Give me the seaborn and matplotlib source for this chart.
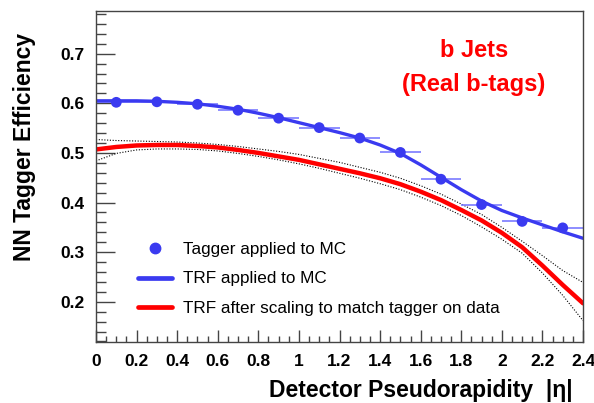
import numpy as np
import pandas as pd
import matplotlib
matplotlib.use("Agg")
import matplotlib.pyplot as plt
from matplotlib.ticker import MultipleLocator
from matplotlib.lines import Line2D
import seaborn as sns

# Tagger applied to MC (bin centres, bin half width 0.1)
eta_bins = [0.1, 0.3, 0.5, 0.7, 0.9, 1.1, 1.3, 1.5, 1.7, 1.9, 2.1, 2.3]
eff_tagger = [0.602, 0.603, 0.598, 0.586, 0.570, 0.551, 0.530, 0.501, 0.447, 0.396, 0.362, 0.349]

# curves sampled every 0.1 in eta
eta_curve = [0.0, 0.1, 0.2, 0.3, 0.4, 0.5, 0.6, 0.7, 0.8, 0.9, 1.0, 1.1, 1.2,
             1.3, 1.4, 1.5, 1.6, 1.7, 1.8, 1.9, 2.0, 2.1, 2.2, 2.3, 2.4]
trf_mc = [0.605, 0.605, 0.605, 0.604, 0.602, 0.599, 0.594, 0.588, 0.580, 0.571, 0.561, 0.551, 0.541,
          0.530, 0.516, 0.499, 0.476, 0.451, 0.426, 0.403, 0.384, 0.369, 0.355, 0.341, 0.328]
trf_data = [0.507, 0.512, 0.515, 0.516, 0.516, 0.514, 0.511, 0.506, 0.500, 0.493, 0.486, 0.477, 0.468,
            0.459, 0.449, 0.437, 0.422, 0.405, 0.385, 0.364, 0.339, 0.310, 0.273, 0.234, 0.197]
trf_data_up = [0.527, 0.525, 0.524, 0.523, 0.522, 0.520, 0.517, 0.513, 0.508, 0.503, 0.497, 0.489, 0.481,
               0.471, 0.461, 0.449, 0.434, 0.417, 0.397, 0.376, 0.350, 0.322, 0.293, 0.263, 0.239]
trf_data_dn = [0.484, 0.499, 0.506, 0.508, 0.508, 0.507, 0.504, 0.499, 0.493, 0.486, 0.478, 0.469, 0.459,
               0.449, 0.438, 0.426, 0.411, 0.394, 0.374, 0.351, 0.326, 0.298, 0.258, 0.213, 0.162]

legend_labels = ["Tagger applied to MC", "TRF applied to MC", "TRF after scaling to match tagger on data"]

sns.set_theme(style="ticks")
plt.rcParams['font.family'] = ['Liberation Sans', 'DejaVu Sans']
plt.rcParams['text.color'] = 'black'
plt.rcParams['axes.labelcolor'] = 'black'

blue = "#3a3af0"
light_blue = "#7a7aff"
red = "#ff0000"

pts = pd.DataFrame({"eta": eta_bins, "eff": eff_tagger})
curves = pd.DataFrame({"eta": eta_curve, "mc": trf_mc, "data": trf_data,
                       "up": trf_data_up, "dn": trf_data_dn})

fig = plt.figure(figsize=(5.94, 4.03), dpi=100)
ax = fig.add_axes([0.1616, 0.1514, 0.8199, 0.8213])

# uncertainty band edges
sns.lineplot(data=curves, x="eta", y="up", ax=ax, color="black", lw=0.8, linestyle=(0, (1, 1.5)))
sns.lineplot(data=curves, x="eta", y="dn", ax=ax, color="black", lw=0.8, linestyle=(0, (1, 1.5)))
sns.lineplot(data=curves, x="eta", y="data", ax=ax, color=red, lw=3.2)

# tagger points with bin-width bars
ax.errorbar(pts["eta"], pts["eff"], xerr=0.1, fmt="none", ecolor=light_blue, elinewidth=1.2, capsize=0)
sns.lineplot(data=curves, x="eta", y="mc", ax=ax, color=blue, lw=2.4)
sns.scatterplot(data=pts, x="eta", y="eff", ax=ax, color=blue, s=60, edgecolor="none", zorder=5)

ax.set_xlim(0, 2.4)
ax.set_ylim(0.119, 0.786)
ax.xaxis.set_minor_locator(MultipleLocator(0.05))
ax.yaxis.set_minor_locator(MultipleLocator(0.02))
ax.set_xticks(np.arange(0, 2.41, 0.2))
ax.set_xticklabels(["0", "0.2", "0.4", "0.6", "0.8", "1", "1.2", "1.4", "1.6", "1.8", "2", "2.2", "2.4"])
ax.set_yticks([0.2, 0.3, 0.4, 0.5, 0.6, 0.7])
ax.set_yticklabels(["0.2", "0.3", "0.4", "0.5", "0.6", "0.7"])

ax.tick_params(axis="both", which="both", direction="in", colors="#444444", labelcolor="black",
               labelsize=12.5, width=1)
ax.tick_params(axis="y", which="major", length=14, pad=8)
ax.tick_params(axis="y", which="minor", length=7)
ax.tick_params(axis="x", which="major", length=9, pad=9)
ax.tick_params(axis="x", which="minor", length=4.5)
for lab in ax.get_xticklabels() + ax.get_yticklabels():
    lab.set_fontweight("bold")
for sp in ax.spines.values():
    sp.set_color("#444444")
    sp.set_linewidth(1)

ax.set_xlabel("Detector Pseudorapidity  |η|", fontsize=16.5, fontweight="bold", ha="right", x=0.979, labelpad=7)
ax.set_ylabel("NN Tagger Efficiency", fontsize=16.5, fontweight="bold", ha="right", y=0.934, labelpad=18)

ax.text(0.776, 0.862, "b Jets", transform=ax.transAxes, color=red, fontsize=17,
        fontweight="bold", ha="center", va="baseline")
ax.text(0.776, 0.759, "(Real b-tags)", transform=ax.transAxes, color=red, fontsize=17,
        fontweight="bold", ha="center", va="baseline")

handles = [
    Line2D([], [], color=blue, marker="o", linestyle="none", markersize=7.5),
    Line2D([], [], color=blue, lw=3.4),
    Line2D([], [], color=red, lw=3.4),
]
ax.legend(handles, legend_labels, loc="lower left", bbox_to_anchor=(0.055, 0.032), frameon=False,
          fontsize=12.3, handlelength=2.0, handletextpad=0.6, labelspacing=0.85)

fig.savefig("out.png", dpi=100)
